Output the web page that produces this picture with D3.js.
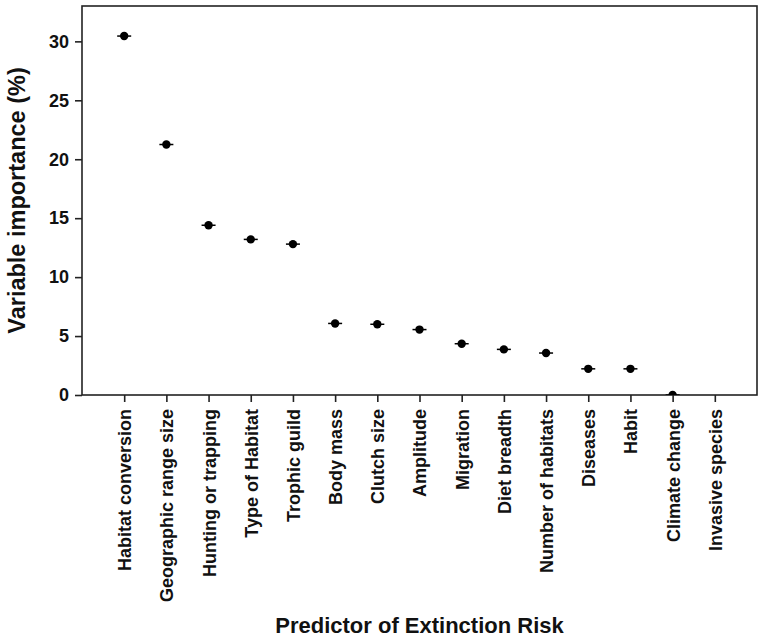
<!DOCTYPE html>
<html>
<head>
<meta charset="utf-8">
<script src="https://cdn.jsdelivr.net/npm/d3@7"></script>
<style>
  body { margin: 0; background: #fff; }
  svg text { font-family: "Liberation Sans", Arial, sans-serif; font-weight: bold; }
</style>
</head>
<body>
<svg id="chart" width="764" height="639"></svg>
<script>
const width = 764;
const height = 639;

const margin = {top: 6, right: 7, bottom: 244, left: 82};

// Predictors, in the order shown on the x axis
const predictors = [
  "Habitat conversion", "Geographic range size", "Hunting or trapping",
  "Type of Habitat", "Trophic guild", "Body mass", "Clutch size",
  "Amplitude", "Migration", "Diet breadth", "Number of habitats",
  "Diseases", "Habit", "Climate change", "Invasive species"
];

// Variable importance (%) (null = no point drawn)
const importance = [30.45, 21.25, 14.4, 13.2, 12.8, 6.07, 6.0, 5.55, 4.35, 3.87, 3.56, 2.22, 2.22, 0, null];

const yTicks = [0, 5, 10, 15, 20, 25, 30];

const data = predictors.map((p, i) => ({name: p, value: importance[i]}));

const svg = d3.select("#chart");

const chartWidth = width - margin.left - margin.right;
const chartHeight = height - margin.top - margin.bottom;

const g = svg.append("g")
    .attr("transform", `translate(${margin.left},${margin.top})`);

const x = d3.scalePoint()
    .domain(predictors)
    .range([0, chartWidth])
    .padding(1);

const y = d3.scaleLinear()
    .domain([0, 33])
    .range([chartHeight, 0]);

// clip so the point at 0 is cut by the axis line
svg.append("clipPath")
    .attr("id", "plotClip")
  .append("rect")
    .attr("width", chartWidth)
    .attr("height", chartHeight);

// box
g.append("rect")
    .attr("width", chartWidth)
    .attr("height", chartHeight)
    .attr("fill", "none")
    .attr("stroke", "#222")
    .attr("stroke-width", 1.6);

const xAxis = d3.axisBottom(x).tickSize(7).tickSizeOuter(0);
const yAxis = d3.axisLeft(y).tickValues(yTicks).tickSize(7).tickSizeOuter(0);

const gx = g.append("g")
    .attr("transform", `translate(0,${chartHeight})`)
    .call(xAxis);

gx.select(".domain").remove();
gx.selectAll(".tick line").attr("stroke", "#222").attr("stroke-width", 1.6);
gx.selectAll(".tick text")
    .attr("fill", "#111")
    .style("font-size", "18px")
    .attr("transform", "rotate(-90)")
    .attr("text-anchor", "end")
    .attr("x", -14)
    .attr("y", 0)
    .attr("dy", "0.36em");

const gy = g.append("g")
    .call(yAxis);

gy.select(".domain").remove();
gy.selectAll(".tick line").attr("stroke", "#222").attr("stroke-width", 1.6);
gy.selectAll(".tick text")
    .attr("fill", "#111")
    .style("font-size", "18px")
    .attr("x", -13);

// points with small horizontal whiskers
const pts = g.append("g")
    .attr("clip-path", "url(#plotClip)")
  .selectAll("g")
  .data(data.filter(d => d.value !== null))
  .enter()
  .append("g")
    .attr("transform", d => `translate(${x(d.name)},${y(d.value)})`);

pts.append("line")
    .attr("x1", -7)
    .attr("x2", 7)
    .attr("stroke", "#000")
    .attr("stroke-width", 1.5);

pts.append("circle")
    .attr("r", 4.2)
    .attr("fill", "#000");

// axis titles
svg.append("text")
    .attr("x", margin.left + chartWidth / 2)
    .attr("y", 633)
    .attr("text-anchor", "middle")
    .style("font-size", "22px")
    .attr("fill", "#111")
    .text("Predictor of Extinction Risk");

svg.append("text")
    .attr("transform", `translate(25,${margin.top + chartHeight / 2}) rotate(-90)`)
    .attr("text-anchor", "middle")
    .style("font-size", "23.5px")
    .attr("fill", "#111")
    .text("Variable importance (%)");
</script>
</body>
</html>
